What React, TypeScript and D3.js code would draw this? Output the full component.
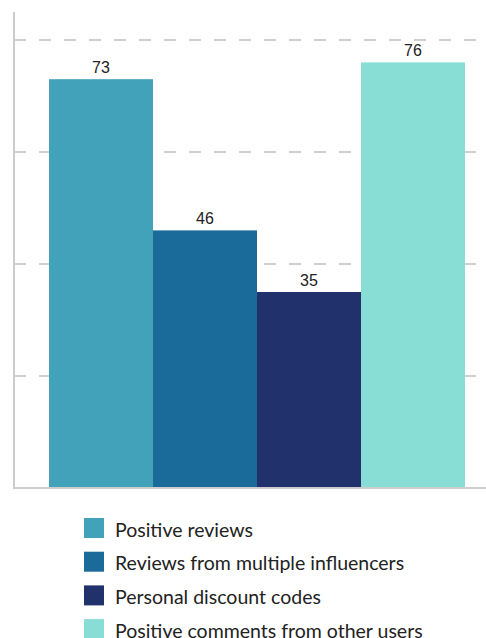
import React from "react";
import * as d3 from "d3";

// Share of respondents influenced by each factor
const categories: string[] = [
  "Positive reviews",
  "Reviews from multiple influencers",
  "Personal discount codes",
  "Positive comments from other users",
];
const values: number[] = [73, 46, 35, 76];
const colors: string[] = ["#41A2BA", "#1A6B9A", "#21316B", "#88DDD4"];
const gridTicks: number[] = [20, 40, 60, 80];

const W = 486;
const H = 638;

export default function App() {
  const x = d3.scaleBand<string>().domain(categories).range([49, 465]).paddingInner(0).paddingOuter(0);
  const y = d3.scaleLinear().domain([0, 85]).range([488, 12]);
  const axisX = 14;

  return (
    <svg
      width={W}
      height={H}
      style={{ position: "absolute", left: 0, top: 0, background: "#fff" }}
    >
      {/* dashed horizontal gridlines */}
      {gridTicks.map((t) => (
        <line
          key={t}
          x1={axisX}
          x2={W}
          y1={y(t)}
          y2={y(t)}
          stroke="#cfcfcf"
          strokeWidth={2}
          strokeDasharray="12,13"
        />
      ))}

      {/* bars */}
      {categories.map((c, i) => (
        <rect
          key={c}
          x={x(c)}
          y={y(values[i])}
          width={x.bandwidth()}
          height={y(0) - y(values[i])}
          fill={colors[i]}
        />
      ))}

      {/* value labels */}
      {categories.map((c, i) => (
        <text
          key={c}
          x={(x(c) as number) + x.bandwidth() / 2}
          y={y(values[i]) - 6}
          textAnchor="middle"
          fontFamily="'Liberation Sans', Arial, sans-serif"
          fontSize={16}
          fill="#222"
        >
          {values[i]}
        </text>
      ))}

      {/* axes */}
      <line x1={axisX} x2={axisX} y1={y(85)} y2={y(0) + 1} stroke="#cccccc" strokeWidth={2} />
      <line x1={axisX - 1} x2={W} y1={y(0)} y2={y(0)} stroke="#cccccc" strokeWidth={2} />

      {/* legend */}
      {categories.map((c, i) => (
        <g key={c} transform={`translate(84, ${518 + i * 33.7})`}>
          <rect width={20} height={20} fill={colors[i]} />
          <text
            x={31}
            y={18.5}
            fontFamily="Lato, 'Noto Sans', sans-serif"
            fontSize={19.5}
            fill="#222"
          >
            {c}
          </text>
        </g>
      ))}
    </svg>
  );
}
